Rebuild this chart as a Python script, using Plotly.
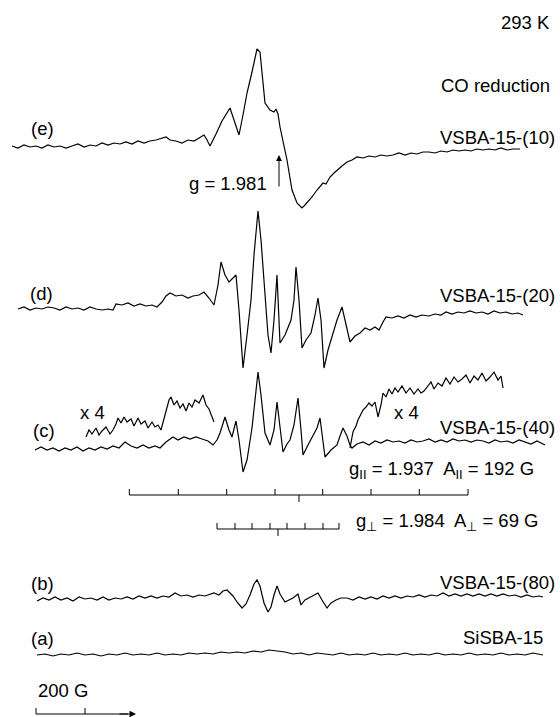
import plotly.graph_objects as go

# ---- spectra (field position, signal position) ----
e_field = [12,18,24,30,36,42,48,54,60,66,72,78,84,90,96,102,108,114,120,126,132,138,144,150,156,162,166,170,176,182,188,194,200,204,207,210,216,222,230,235,239,243,247,252,257,260,263,265,270,274,276,278,280,284,287,292,297,300,302,305,307,312,317,320,323,326,330,334,337,342,347,352,357,363,369,375,381,387,393,399,405,411,417,423,429,435,441,447,453,459,465,471,477,483,489,495,501,507,513,520]
e_signal = [146,148,145,147,146,148,145,147,146,148,146,144,147,145,146,143,145,143,144,142,144,141,143,141,140,138,137,140,141,143,140,141,137,135,140,146,134,121,108,124,135,115,93,72,49,52,85,103,110,112,109,114,127,145,160,190,203,206,208,205,203,197,190,186,183,184,177,173,170,166,162,160,157,158,156,157,155,156,155,153,155,153,154,152,152,153,151,152,150,151,150,151,149,150,149,150,148,150,149,149]

d_field = [18,24,30,36,42,48,54,60,66,72,78,84,90,96,102,108,113,116,122,128,134,140,146,152,157,162,166,170,176,182,188,193,199,204,209,214,218,221,225,229,233,236,239,243,247,251,254,258,261,265,268,271,274,277,280,285,291,294,296,299,302,306,311,315,318,321,324,328,332,337,342,346,350,355,360,365,370,375,379,383,386,392,398,404,410,416,422,429,435,441,446,452,458,464,470,476,482,488,494,500,506,512,518,523]
d_signal = [309,307,310,308,309,307,308,310,307,309,308,310,307,309,310,309,310,304,305,303,306,304,306,305,307,302,296,293,296,295,298,296,295,292,298,305,285,262,275,282,278,275,310,368,335,300,255,211,240,300,335,353,320,275,343,335,320,300,267,300,348,340,333,315,298,320,368,350,337,320,307,325,342,336,333,328,330,327,330,322,317,318,316,318,315,317,315,316,314,315,312,314,312,313,311,313,312,314,311,313,312,314,313,315]

c_field = [35,41,47,53,59,65,71,77,83,89,95,101,107,113,119,125,131,137,143,149,155,160,166,173,178,184,190,196,202,208,213,217,220,225,229,232,236,239,243,247,252,255,258,261,265,270,274,277,280,283,287,290,294,298,301,303,308,313,317,320,323,325,331,337,340,343,347,350,352,357,363,369,375,381,387,393,399,405,411,417,423,429,435,441,447,453,459,465,471,477,483,489,495,501,507,513,519,525,531,537,545]
c_signal = [450,447,450,448,451,448,450,447,451,448,450,447,449,446,448,442,446,448,445,448,446,448,442,437,440,437,439,437,439,441,445,440,433,417,430,437,421,440,472,460,428,400,372,395,433,445,430,402,430,452,444,440,425,398,430,455,445,435,428,418,440,457,450,445,436,428,436,445,448,444,442,445,441,443,440,442,441,443,440,442,441,439,442,440,442,439,441,440,442,440,441,443,440,442,441,443,440,442,444,441,445]

c4_left_field = [86,89,92,96,99,102,106,110,113,116,118,121,124,127,131,134,138,141,145,148,152,155,158,161,165,169,171,174,177,180,183,186,189,192,195,199,203,206,209,212,214]
c4_left_signal = [437,430,434,428,435,431,427,434,430,424,418,423,417,422,419,426,418,424,421,428,422,427,425,430,415,400,397,405,401,408,404,411,403,407,400,403,395,405,409,416,422]

c4_right_field = [350,353,356,358,361,363,366,369,372,375,378,381,383,386,389,392,395,398,402,406,410,414,418,421,424,428,431,434,438,442,446,450,454,458,462,466,470,474,478,482,486,490,494,498,501,503]
c4_right_signal = [448,432,426,420,414,410,407,403,406,402,417,405,393,397,389,394,388,392,386,393,388,394,389,393,391,386,382,389,383,386,378,384,377,382,379,375,383,376,380,373,381,377,372,380,376,388]

b_field = [37,43,49,55,61,67,73,79,85,91,97,103,109,115,121,127,133,139,145,151,157,163,169,175,181,187,193,199,205,210,214,219,223,227,230,233,237,242,246,250,254,257,260,264,268,271,274,277,280,285,289,293,298,301,305,310,314,318,322,327,331,336,341,347,353,359,365,371,377,383,389,395,401,407,413,419,425,431,437,443,449,455,461,467,473,479,485,491,497,503,509,515,521,527,533,539,543]
b_signal = [601,598,600,597,600,598,601,597,599,598,600,597,600,598,599,597,599,596,598,596,598,596,597,593,596,595,597,595,596,594,593,595,591,590,593,596,602,608,604,595,584,580,586,603,612,607,595,586,594,602,600,598,594,605,600,597,595,593,600,608,603,600,598,598,600,597,599,597,599,596,598,596,598,596,597,595,597,595,596,593,596,594,596,594,596,594,596,594,596,594,596,595,597,595,597,596,597]

a_field = [37,45,53,61,69,77,85,93,101,109,117,125,133,141,149,157,165,173,181,189,197,205,213,221,229,237,245,253,261,269,277,285,293,301,309,317,325,333,341,349,357,365,373,381,389,397,405,413,421,429,437,445,453,461,469,477,485,493,501,509,517,525,533,543]
a_signal = [655,654,656,654,655,653,655,654,656,654,655,653,655,654,655,653,655,654,655,653,654,653,654,652,653,652,653,651,652,650,651,652,654,653,655,653,654,655,653,655,654,655,653,655,654,655,653,655,654,655,653,655,654,655,653,655,654,655,653,655,654,655,653,655]

# ---- hyperfine stick diagrams ----
par_lines = [129.3, 178.3, 226.7, 275.0, 322.7, 371.0, 419.3, 468.0]
par_center = 299
perp_lines = [217, 235, 252, 270, 287, 305, 323, 339]
perp_center = 278

# ---- labels ----
right_labels = ["293 K", "CO reduction", "VSBA-15-(10)", "VSBA-15-(20)", "VSBA-15-(40)", "VSBA-15-(80)", "SiSBA-15"]
right_label_pos = [(552, 22), (552, 85), (557, 137), (557, 295), (557, 427), (557, 582), (545, 637)]
left_labels = ["(e)", "(d)", "(c)", "(b)", "(a)", "x 4", "x 4", "g = 1.981",
               "g<sub>II</sub> = 1.937  A<sub>II</sub> = 192 G",
               "g<sub>⊥</sub> = 1.984  A<sub>⊥</sub> = 69 G", "200 G"]
left_label_pos = [(29, 128), (28, 293), (31, 430), (29, 583), (29, 638), (78, 412), (392, 412),
                  (187, 183), (347, 470), (354, 522), (36, 690)]

FONT = dict(family="Liberation Sans, Arial, sans-serif", size=18.5, color="black")
LINE = dict(color="black", width=1.2)

fig = go.Figure()
for fx, sy in [(e_field, e_signal), (d_field, d_signal), (c_field, c_signal),
               (c4_left_field, c4_left_signal), (c4_right_field, c4_right_signal),
               (b_field, b_signal), (a_field, a_signal)]:
    fig.add_trace(go.Scatter(x=fx, y=sy, mode="lines", line=LINE, hoverinfo="skip"))

def stick(lines, center, base, up, down):
    xs, ys = [lines[0], lines[-1], None], [base, base, None]
    for p in lines:
        xs += [p, p, None]
        ys += [base, base - up, None]
    xs += [center, center, None]
    ys += [base, base + down, None]
    return xs, ys

for lines, center, base in [(par_lines, par_center, 495), (perp_lines, perp_center, 529)]:
    xs, ys = stick(lines, center, base, 6, 7)
    fig.add_trace(go.Scatter(x=xs, y=ys, mode="lines", line=dict(color="black", width=1), hoverinfo="skip"))

# scale bar 200 G
scale_ticks = [36, 85]
xs, ys = [scale_ticks[0], 128, None], [714, 714, None]
for t in scale_ticks:
    xs += [t, t, None]
    ys += [714, 708, None]
fig.add_trace(go.Scatter(x=xs, y=ys, mode="lines", line=dict(color="black", width=1), hoverinfo="skip"))

annotations = []
for txt, (x, y) in zip(right_labels, right_label_pos):
    annotations.append(dict(x=x, y=y, text=txt, showarrow=False, xanchor="right", yanchor="middle", font=FONT))
for txt, (x, y) in zip(left_labels, left_label_pos):
    annotations.append(dict(x=x, y=y, text=txt, showarrow=False, xanchor="left", yanchor="middle", font=FONT))
# g marker arrow
annotations.append(dict(x=279, y=155, ax=279, ay=188, axref="x", ayref="y", xref="x", yref="y",
                        showarrow=True, arrowhead=2, arrowsize=1.2, arrowwidth=1, arrowcolor="black", text=""))
# scale bar arrow head
annotations.append(dict(x=136, y=714, ax=118, ay=714, axref="x", ayref="y", xref="x", yref="y",
                        showarrow=True, arrowhead=2, arrowsize=1.3, arrowwidth=1, arrowcolor="black", text=""))

fig.update_layout(
    width=560, height=717, margin=dict(l=0, r=0, t=0, b=0),
    paper_bgcolor="white", plot_bgcolor="white", showlegend=False,
    xaxis=dict(range=[0, 560], visible=False, fixedrange=True),
    yaxis=dict(range=[717, 0], visible=False, fixedrange=True),
    annotations=annotations,
)
fig.write_html("out.html", config={"displayModeBar": False},
               post_script="document.body.style.margin='0';document.body.style.overflow='hidden';")
